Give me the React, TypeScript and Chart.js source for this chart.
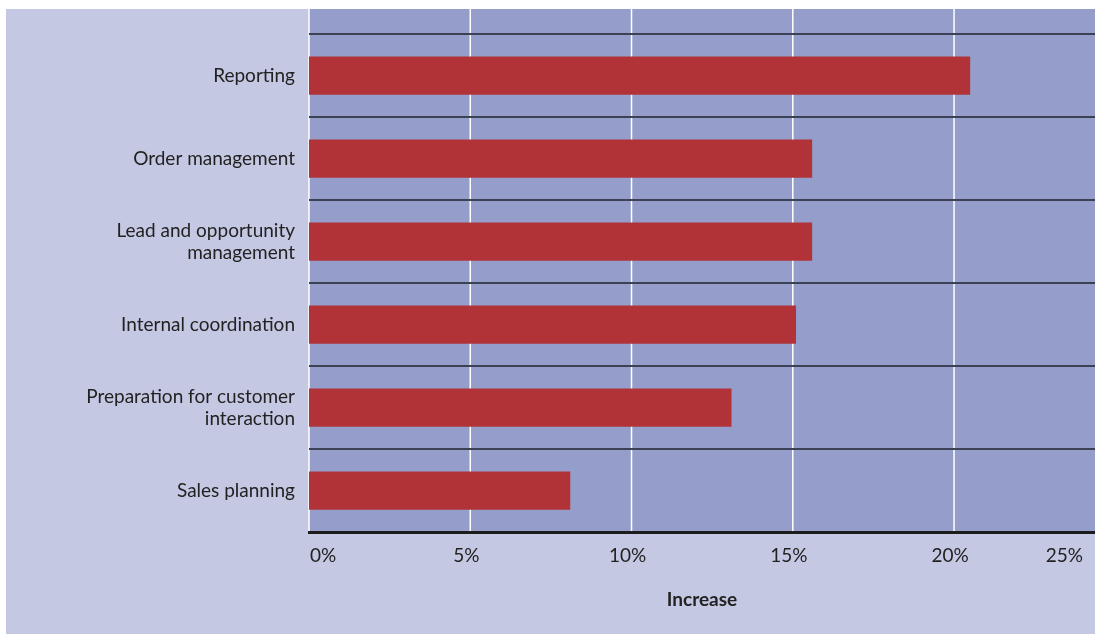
import { useEffect, useRef } from "react";
import { Chart, registerables } from "chart.js";

Chart.register(...registerables);

const categories: string[][] = [
  ["Reporting"],
  ["Order management"],
  ["Lead and opportunity", "management"],
  ["Internal coordination"],
  ["Preparation for customer", "interaction"],
  ["Sales planning"],
];
const increaseValues = [20.5, 15.6, 15.6, 15.1, 13.1, 8.1];
const xTickValues = [0, 5, 10, 15, 20, 25];
const xTickLabels = ["0%", "5%", "10%", "15%", "20%", "25%"];
const xAxisTitle = "Increase";
const xMin = 0;
const xMax = 24.37;

const LAVENDER = "#c5c8e3";
const PLOT_BLUE = "#959ecb";
const BAR_RED = "#b13338";
const LINE_DARK = "#3c4155";
const TEXT = "#222222";
const FONT_FAMILY = "Lato, 'Noto Sans', sans-serif";
const FONT_SIZE = 19;

const backgroundPlugin = {
  id: "customBackground",
  beforeDraw(chart: any) {
    const { ctx, chartArea: a, width, height } = chart;
    ctx.save();
    ctx.fillStyle = LAVENDER;
    ctx.fillRect(0, 0, width, height);
    ctx.fillStyle = PLOT_BLUE;
    ctx.fillRect(a.left, 0, a.right - a.left, a.bottom);
    const xs = chart.scales.x;
    ctx.strokeStyle = "#ffffff";
    ctx.lineWidth = 1.5;
    for (const v of xTickValues) {
      const px = xs.getPixelForValue(v);
      if (px > a.right + 1) continue;
      ctx.beginPath();
      ctx.moveTo(px, 0);
      ctx.lineTo(px, a.bottom);
      ctx.stroke();
    }
    ctx.restore();
  },
  afterDraw(chart: any) {
    const { ctx, chartArea: a } = chart;
    const xs = chart.scales.x;
    ctx.save();
    ctx.font = `${FONT_SIZE}px ${FONT_FAMILY}`;
    ctx.fillStyle = TEXT;
    ctx.textAlign = "center";
    ctx.textBaseline = "middle";
    xTickValues.forEach((v, i) => {
      const label = xTickLabels[i];
      const w = ctx.measureText(label).width;
      const px = xs.getPixelForValue(v) - 4;
      const cx = Math.min(Math.max(px, a.left + w / 2 + 1), a.right - w / 2 - 12);
      ctx.fillText(label, cx, a.bottom + 24);
    });
    ctx.restore();
  },
};

export default function App() {
  const canvasRef = useRef<HTMLCanvasElement | null>(null);

  useEffect(() => {
    if (!canvasRef.current) return;
    const chart = new Chart(canvasRef.current, {
      type: "bar",
      data: {
        labels: categories,
        datasets: [
          {
            label: "Increase",
            data: increaseValues,
            backgroundColor: BAR_RED,
            borderWidth: 0,
            categoryPercentage: 1,
            barPercentage: 0.46,
          },
        ],
      },
      options: {
        indexAxis: "y",
        animation: false,
        responsive: true,
        maintainAspectRatio: false,
        layout: { padding: { top: 25, right: 0, bottom: 0, left: 0 } },
        plugins: {
          legend: { display: false },
          tooltip: { enabled: false },
        },
        scales: {
          x: {
            type: "linear",
            min: xMin,
            max: xMax,
            grid: { display: false, drawTicks: false },
            border: { display: true, color: "#1c1c1c", width: 3 },
            ticks: { display: false, stepSize: 5 },
            title: {
              display: true,
              text: xAxisTitle,
              color: TEXT,
              font: { family: FONT_FAMILY, size: FONT_SIZE, weight: "bold", lineHeight: 1.2 },
              padding: { top: 56, bottom: 23 },
            },
          },
          y: {
            type: "category",
            grid: {
              display: true,
              offset: true,
              color: LINE_DARK,
              lineWidth: 2,
              drawTicks: false,
            },
            border: { display: false },
            ticks: {
              color: TEXT,
              font: { family: FONT_FAMILY, size: FONT_SIZE, lineHeight: 1.16 },
              padding: 14,
            },
            afterFit(scale: any) {
              scale.width = 303;
            },
          },
        },
      },
      plugins: [backgroundPlugin],
    });
    return () => chart.destroy();
  }, []);

  return (
    <div
      style={{
        position: "absolute",
        left: 6,
        top: 9,
        width: 1089,
        height: 625,
        background: LAVENDER,
      }}
    >
      <canvas ref={canvasRef} />
    </div>
  );
}
